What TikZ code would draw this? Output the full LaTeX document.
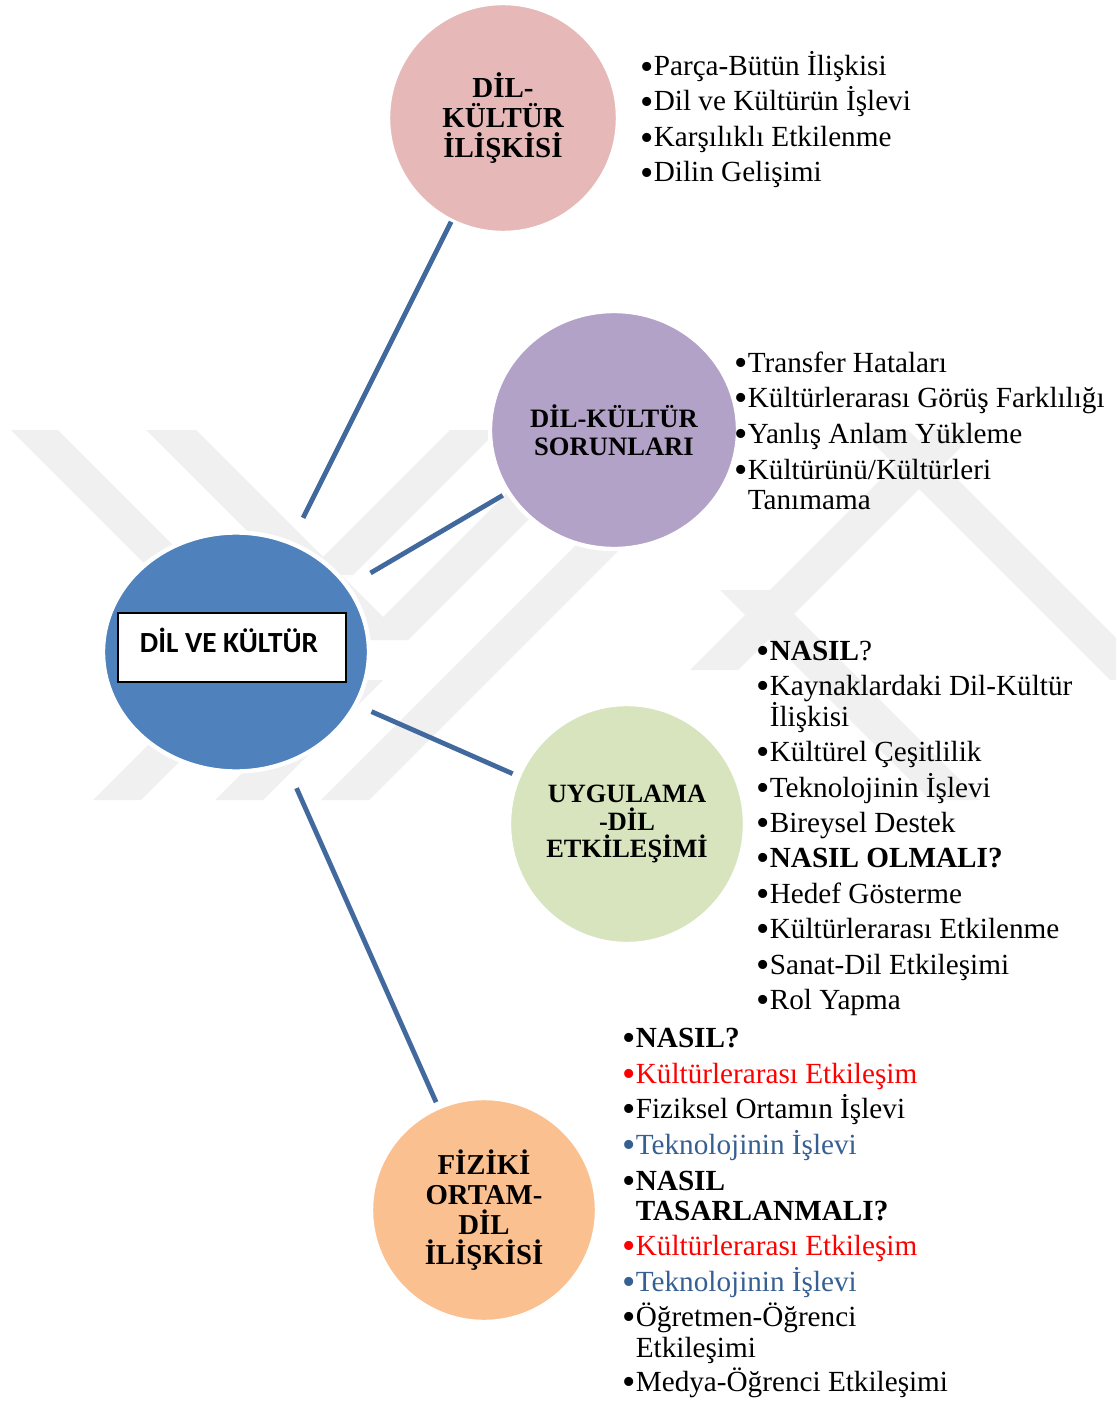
\documentclass[tikz,border=0pt]{standalone}
\usepackage{fontspec}
\usepackage{graphicx}
\setmainfont{Liberation Serif}
\newfontfamily\calib{Carlito}
\usetikzlibrary{shapes.geometric}
\definecolor{cpink}{HTML}{E6B9B8}
\definecolor{cpurple}{HTML}{B3A2C7}
\definecolor{cblue}{HTML}{4F81BD}
\definecolor{cgreen}{HTML}{D7E4BD}
\definecolor{corange}{HTML}{FAC090}
\definecolor{cline}{RGB}{65,105,158}
\definecolor{wred}{HTML}{FF0000}
\definecolor{tblue}{RGB}{54,96,146}
\definecolor{wm}{HTML}{F0F0F0}
\newcommand\bul{\makebox[0.46em][l]{\raisebox{-0.11em}{\scalebox{1.3}{•}}}}
\newcommand\nobul{\hspace*{0.46em}}
\begin{document}
\begin{tikzpicture}[x=0.5pt,y=-0.5pt,
  bub/.style={ellipse, draw=white, line width=2.2pt, inner sep=0pt, align=center},
  conn/.style={draw=cline, line width=2.4pt},
  itm/.style={anchor=base west, inner sep=0pt, font=\fontsize{14.6}{16}\selectfont},
  wmark/.style={fill=wm}]
\useasboundingbox (0,0) rectangle (1116,1401);
\fill[white] (0,0) rectangle (1116,1401);
% watermark
\begin{scope}
\clip (0,430) rectangle (1116,802);
% "\" bands
\fill[wmark] (11,430) -- (58,430) -- (213,585) -- (166,585) -- cycle;
\fill[wmark] (146,430) -- (196,430) -- (406,640) -- (356,640) -- cycle;
\fill[wmark] (720,590) -- (770,590) -- (980,800) -- (930,800) -- cycle;
\fill[wmark] (860,430) -- (908,430) -- (1158,680) -- (1110,680) -- cycle;
% "/" bands
\fill[wmark] (450,430) -- (498,430) -- (353,575) -- (305,575) -- cycle;
\fill[wmark] (570,430) -- (618,430) -- (408,640) -- (360,640) -- cycle;
\fill[wmark] (691,430) -- (739,430) -- (369,800) -- (321,800) -- cycle;
\fill[wmark] (930,430) -- (978,430) -- (738,670) -- (690,670) -- cycle;
\fill[wmark] (93,800) -- (141,800) -- (291,650) -- (243,650) -- cycle;
\fill[wmark] (215,800) -- (263,800) -- (383,680) -- (335,680) -- cycle;
\end{scope}
% bubbles
\node[bub, fill=cpink, minimum width=115pt, minimum height=115pt,
  font=\bfseries\fontsize{14.5}{15}\selectfont] (pink) at (503,118) {DİL-\\KÜLTÜR\\İLİŞKİSİ};
\node[bub, fill=cpurple, minimum width=124pt, minimum height=119pt,
  font=\bfseries\fontsize{13.3}{14}\selectfont] (purple) at (614,430) {DİL-KÜLTÜR\\SORUNLARI};
\node[bub, fill=cblue, minimum width=133pt, minimum height=119.5pt] (blue) at (236,652) {};
\node[bub, fill=cgreen, minimum width=118pt, minimum height=120pt,
  font=\bfseries\fontsize{13.2}{13.75}\selectfont] (green) at (627,824) {UYGULAMA\\-DİL\\ETKİLEŞİMİ};
\node[bub, fill=corange, minimum width=113pt, minimum height=112pt,
  font=\bfseries\fontsize{14.4}{15}\selectfont] (orange) at (484,1210) {FİZİKİ\\ORTAM-\\DİL\\İLİŞKİSİ};
% connectors
\draw[conn, shorten <=75pt, shorten >=58pt] (blue.center) -- (pink.center);
\draw[conn, shorten <=78pt, shorten >=64.5pt] (blue.center) -- (purple.center);
\draw[conn, shorten <=74pt, shorten >=62.5pt] (blue.center) -- (green.center);
\draw[conn, shorten <=74.5pt, shorten >=59pt] (blue.center) -- (orange.center);
% central box
\node[draw=black, fill=white, line width=0.8pt, minimum width=114pt, minimum height=34.5pt, inner sep=0pt] (box) at (232,647.5) {};
\node[anchor=base, inner sep=0pt, font=\calib\bfseries\fontsize{14.6}{16}\selectfont] (boxt) at (229,652) {DİL VE KÜLTÜR};
% lists
\foreach \yy/\txt [count=\i] in {76/{\bul Parça-Bütün İlişkisi},111/{\bul Dil ve Kültürün İşlevi},147/{\bul Karşılıklı Etkilenme},182/{\bul Dilin Gelişimi}}
  \node[itm] (a\i) at (640,\yy) {\txt};
\foreach \yy/\txt [count=\i] in {372/{\bul Transfer Hataları},407/{\bul Kültürlerarası Görüş Farklılığı},443/{\bul Yanlış Anlam Yükleme},479/{\bul Kültürünü/Kültürleri},509/{\nobul Tanımama}}
  \node[itm] (b\i) at (734,\yy) {\txt};
\foreach \yy/\txt [count=\i] in {660/{\bul\textbf{NASIL}?},695/{\bul Kaynaklardaki Dil-Kültür},726/{\nobul İlişkisi},761/{\bul Kültürel Çeşitlilik},797/{\bul Teknolojinin İşlevi},832/{\bul Bireysel Destek},867/{\bul\textbf{NASIL OLMALI?}},903/{\bul Hedef Gösterme},938/{\bul Kültürlerarası Etkilenme},974/{\bul Sanat-Dil Etkileşimi},1009/{\bul Rol Yapma}}
  \node[itm] (c\i) at (756,\yy) {\txt};
\foreach \yy/\txt [count=\i] in {1047/{\bul\textbf{NASIL?}},1083/{\color{wred}\bul Kültürlerarası Etkileşim},1118/{\bul Fiziksel Ortamın İşlevi},1154/{\color{tblue}\bul Teknolojinin İşlevi},1190/{\bul\textbf{NASIL}},1220/{\nobul\textbf{TASARLANMALI?}},1255/{\color{wred}\bul Kültürlerarası Etkileşim},1291/{\color{tblue}\bul Teknolojinin İşlevi},1326/{\bul Öğretmen-Öğrenci},1357/{\nobul Etkileşimi},1391/{\bul Medya-Öğrenci Etkileşimi}}
  \node[itm] (d\i) at (622,\yy) {\txt};
\end{tikzpicture}
\end{document}
